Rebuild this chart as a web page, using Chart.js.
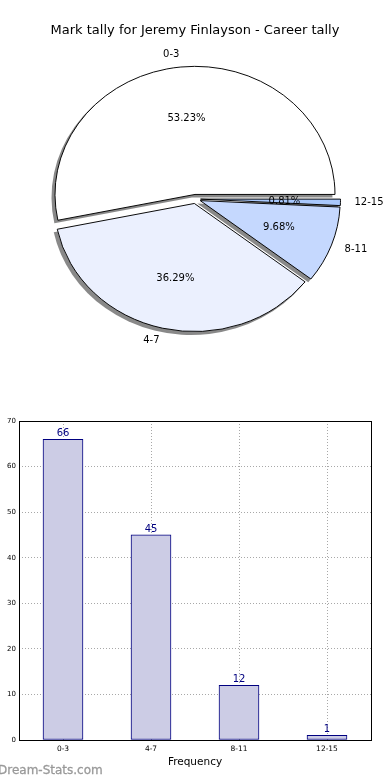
<!DOCTYPE html>
<html><head><meta charset="utf-8">
<script src="https://cdn.jsdelivr.net/npm/chart.js@4"></script>
<style>
html,body{margin:0;padding:0;background:#fff;width:390px;height:780px;overflow:hidden;font-family:"DejaVu Sans",sans-serif;}
#pie{position:absolute;left:0;top:0;}
#title{position:absolute;left:0;top:21px;width:390px;text-align:center;font-size:13px;line-height:18px;color:#000;white-space:nowrap;}
#bar{position:absolute;left:0;top:400px;}
#wm{position:absolute;left:-2px;top:763px;font-size:12px;line-height:14px;color:#999;white-space:nowrap;-webkit-text-stroke:0.3px #999;}
</style></head>
<body>
<canvas id="pie" width="390" height="400"></canvas>
<div id="title">Mark tally for Jeremy Finlayson - Career tally</div>
<canvas id="bar" width="390" height="380"></canvas>
<div id="wm">Dream-Stats.com</div>
<script>
const categories = ['0-3', '4-7', '8-11', '12-15'];
const frequencies = [66, 45, 12, 1];
const yTickMin = 0;
const yTickMax = 70;
const yTickStep = 10;
const xAxisTitle = 'Frequency';

const sliceColors = ['#ffffff', '#ebf0fe', '#c5d8fe', '#a9c8fc'];
const FONT = '"DejaVu Sans", sans-serif';
const EXPLODE = 5, SY = 0.915, R = 140;

const total = frequencies.reduce((a, b) => a + b, 0);
const order = categories.map((_, i) => i).reverse();

function ellipseTransform(ctx, cx, cy) {
  ctx.translate(cx, cy); ctx.scale(1, SY); ctx.translate(-cx, -cy);
}

const piePlugin = {
  id: 'piePlugin',
  beforeDatasetsDraw(chart) {
    const meta = chart.getDatasetMeta(0);
    const ctx = chart.ctx;
    const cx = meta.data[0].x, cy = meta.data[0].y;
    meta.data.forEach(arc => {
      if (!arc._ex) {
        const orig = arc.draw;
        arc.draw = function (c, area) {
          const mid = (this.startAngle + this.endAngle) / 2;
          c.save();
          c.translate(Math.cos(mid) * EXPLODE, Math.sin(mid) * EXPLODE);
          orig.call(this, c, area);
          c.restore();
        };
        arc._ex = true;
      }
    });
    // shadows under all wedges
    ctx.save();
    ctx.translate(-3, 3);
    ellipseTransform(ctx, cx, cy);
    ctx.fillStyle = 'rgba(40,40,40,0.55)';
    meta.data.forEach(arc => {
      const mid = (arc.startAngle + arc.endAngle) / 2;
      ctx.save();
      ctx.translate(Math.cos(mid) * EXPLODE, Math.sin(mid) * EXPLODE);
      ctx.beginPath();
      ctx.moveTo(arc.x, arc.y);
      ctx.arc(arc.x, arc.y, arc.outerRadius + 0.5, arc.startAngle, arc.endAngle);
      ctx.closePath();
      ctx.fill();
      ctx.restore();
    });
    ctx.restore();
    ctx.save();
    ellipseTransform(ctx, cx, cy);
  },
  afterDatasetsDraw(chart) {
    const ctx = chart.ctx;
    ctx.restore();
    const meta = chart.getDatasetMeta(0);
    ctx.save();
    ctx.font = '10px ' + FONT;
    ctx.fillStyle = '#000';
    ctx.textBaseline = 'middle';
    meta.data.forEach((arc, j) => {
      const i = order[j];
      const mid = (arc.startAngle + arc.endAngle) / 2;
      const r = arc.outerRadius;
      const c = Math.cos(mid), s = Math.sin(mid);
      const lx = arc.x + c * (EXPLODE + 1.1 * r), ly = arc.y + s * (EXPLODE + 1.1 * r) * SY;
      ctx.textAlign = c < 0 ? 'right' : 'left';
      ctx.fillText(categories[i], lx, ly);
      ctx.textAlign = 'center';
      const px = arc.x + c * (EXPLODE + 0.6 * r), py = arc.y + s * (EXPLODE + 0.6 * r) * SY;
      ctx.fillText((frequencies[i] / total * 100).toFixed(2) + '%', px, py);
    });
    ctx.restore();
  }
};

new Chart(document.getElementById('pie'), {
  type: 'pie',
  data: {
    labels: order.map(i => categories[i]),
    datasets: [{
      data: order.map(i => frequencies[i]),
      backgroundColor: order.map(i => sliceColors[i]),
      borderColor: '#000',
      borderWidth: 1,
      borderJoinStyle: 'miter'
    }]
  },
  options: {
    responsive: false, animation: false, devicePixelRatio: 1, events: [],
    rotation: 90, radius: R,
    layout: { padding: { left: 1, right: 0, top: 0, bottom: 2 } },
    plugins: { legend: { display: false }, tooltip: { enabled: false } }
  },
  plugins: [piePlugin]
});

const barPlugin = {
  id: 'barPlugin',
  afterDatasetsDraw(chart) {
    const ctx = chart.ctx;
    const meta = chart.getDatasetMeta(0);
    ctx.save();
    ctx.font = '10px ' + FONT;
    ctx.fillStyle = '#000080';
    ctx.textAlign = 'center';
    ctx.textBaseline = 'alphabetic';
    meta.data.forEach((b, i) => ctx.fillText(String(frequencies[i]), b.x, b.y - 3));
    ctx.restore();
  },
  afterDraw(chart) {
    const { left, top, right, bottom } = chart.chartArea;
    const ctx = chart.ctx;
    ctx.save();
    ctx.strokeStyle = '#000';
    ctx.lineWidth = 1;
    ctx.strokeRect(Math.round(left) + 0.5, Math.round(top) + 0.5, Math.round(right - left), Math.round(bottom - top));
    ctx.restore();
  }
};

new Chart(document.getElementById('bar'), {
  type: 'bar',
  data: {
    labels: categories,
    datasets: [{
      data: frequencies,
      backgroundColor: '#ccccE5',
      borderColor: '#000080',
      borderWidth: 1,
      borderSkipped: false,
      barThickness: 40
    }]
  },
  options: {
    responsive: false, animation: false, devicePixelRatio: 1, events: [],
    layout: { padding: { top: 21, right: 19, left: 0, bottom: 0 } },
    plugins: { legend: { display: false }, tooltip: { enabled: false } },
    scales: {
      x: {
        offset: true, z: 1,
        grid: { offset: false, color: '#a8a8a8', lineWidth: 1, drawTicks: false },
        border: { display: false, dash: [1, 2] },
        ticks: { font: { size: 7.5, family: FONT }, color: '#000', padding: 5, maxRotation: 0 },
        title: { display: true, text: xAxisTitle, color: '#000', font: { size: 10.5, family: FONT }, padding: { top: 0, bottom: 11 } },
        afterFit(s) { s.height = 40; }
      },
      y: {
        min: yTickMin, max: yTickMax, z: 1,
        grid: { color: '#a8a8a8', lineWidth: 1, drawTicks: false },
        border: { display: false, dash: [1, 2] },
        ticks: { stepSize: yTickStep, font: { size: 7, family: FONT }, color: '#000', padding: 3 },
        afterFit(s) { s.width = 19; }
      }
    }
  },
  plugins: [barPlugin]
});
</script>
</body></html>
